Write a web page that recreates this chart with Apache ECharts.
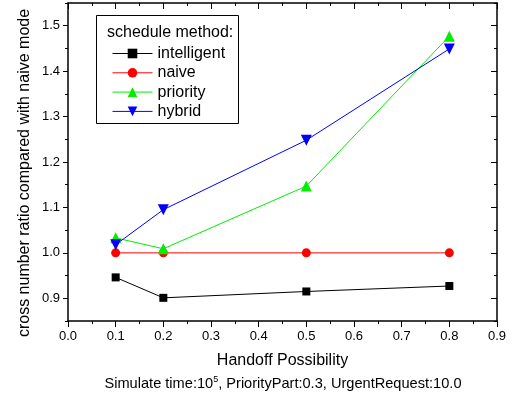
<!DOCTYPE html>
<html>
<head>
<meta charset="utf-8">
<script src="https://cdn.jsdelivr.net/npm/echarts@6/dist/echarts.min.js"></script>
<style>
  html, body { margin: 0; padding: 0; background: #fff; }
  #main { width: 517px; height: 401px; }
</style>
</head>
<body>
<div id="main"></div>
<script>
// data
var handoff = [0.1, 0.2, 0.5, 0.8];
var intelligent = [0.946, 0.901, 0.915, 0.927];
var naive = [1.0, 1.0, 1.0, 1.0];
var priority = [1.033, 1.009, 1.147, 1.477];
var hybrid = [1.018, 1.095, 1.248, 1.449];
var yLabels = [0.9, 1.0, 1.1, 1.2, 1.3, 1.4, 1.5];

var font = 'Liberation Sans, Arial, sans-serif';

function pairs(ys) {
    return handoff.map(function (x, i) { return [x, ys[i]]; });
}

function mkSeries(name, ys, color, symbol, size, rotate) {
    return {
        name: name,
        type: 'line',
        data: pairs(ys),
        symbol: symbol,
        symbolSize: size,
        symbolRotate: rotate || 0,
        showAllSymbol: true,
        itemStyle: { color: color },
        lineStyle: { color: color, width: 1 },
        emphasis: { disabled: true },
        z: 3
    };
}

var myChart = echarts.init(document.getElementById('main'));

var frame = { show: true, lineStyle: { color: '#000', width: 1.5 } };

option = {
    animation: false,
    backgroundColor: '#fff',
    grid: { left: 68, right: 20, top: 3, bottom: 80 },
    xAxis: [{
        type: 'value', position: 'bottom', min: 0, max: 0.9, interval: 0.1,
        axisLine: frame,
        axisTick: { show: true, length: 6, lineStyle: { color: '#000' } },
        minorTick: { show: true, splitNumber: 2, length: 3, lineStyle: { color: '#000' } },
        axisLabel: { fontFamily: font, fontSize: 13, color: '#000', margin: 9,
            formatter: function (v) { return v.toFixed(1); } },
        splitLine: { show: false }
    }, {
        type: 'value', position: 'top', min: 0, max: 0.9, interval: 0.1,
        axisLine: frame,
        axisTick: { show: true, inside: true, length: 6, lineStyle: { color: '#000' } },
        minorTick: { show: true, splitNumber: 2, length: 3, lineStyle: { color: '#000' } },
        axisLabel: { show: false },
        splitLine: { show: false }
    }],
    yAxis: [{
        type: 'value', position: 'left', min: 0.85, max: 1.55, interval: 0.05,
        axisLine: frame,
        axisTick: { show: true, length: 3, lineStyle: { color: '#000' } },
        axisLabel: { fontFamily: font, fontSize: 13, color: '#000', margin: 8,
            formatter: function (v) {
                var t = Math.round(v * 10);
                return Math.abs(t - v * 10) < 1e-6 ? (t / 10).toFixed(1) : '';
            } },
        splitLine: { show: false }
    }, {
        type: 'value', position: 'left', min: 0.85, max: 1.55, interval: 0.05,
        axisLine: { show: false },
        axisTick: { show: true, length: 5, customValues: yLabels, lineStyle: { color: '#000' } },
        axisLabel: { show: false },
        splitLine: { show: false }
    }, {
        type: 'value', position: 'right', min: 0.85, max: 1.55, interval: 0.05,
        axisLine: frame,
        axisTick: { show: true, inside: true, length: 3, lineStyle: { color: '#000' } },
        axisLabel: { show: false },
        splitLine: { show: false }
    }, {
        type: 'value', position: 'right', min: 0.85, max: 1.55, interval: 0.05,
        axisLine: { show: false },
        axisTick: { show: true, inside: true, length: 6, customValues: yLabels, lineStyle: { color: '#000' } },
        axisLabel: { show: false },
        splitLine: { show: false }
    }],
    legend: {
        orient: 'vertical', left: 107, top: 40.5,
        itemWidth: 40, itemHeight: 12, itemGap: 3.3,
        lineStyle: { width: 1 },
        textStyle: { fontFamily: font, fontSize: 16, lineHeight: 16, color: '#000' },
        data: ['intelligent', 'naive', 'priority', 'hybrid']
    },
    graphic: [{
        type: 'rect', left: 96, top: 15,
        shape: { width: 142, height: 108 },
        style: { fill: '#fff', stroke: '#000', lineWidth: 1 },
        z: 1
    }, {
        type: 'text', x: 107, y: 32.7,
        style: { text: 'schedule method:', font: '16px ' + font, fill: '#000', verticalAlign: 'middle' },
        z: 2
    }, {
        type: 'text', x: 25, y: 173, rotation: Math.PI / 2,
        style: { text: 'cross number ratio compared with naive mode', font: '16px ' + font,
            fill: '#000', align: 'center', verticalAlign: 'middle' }
    }, {
        type: 'text', x: 282.5, y: 361,
        style: { text: 'Handoff Possibility', font: '16px ' + font,
            fill: '#000', align: 'center', verticalAlign: 'middle' }
    }, {
        type: 'text', x: 283, y: 384,
        style: {
            text: '{n|Simulate time:10}{s|5}{n|, PriorityPart:0.3, UrgentRequest:10.0}',
            align: 'center', verticalAlign: 'middle',
            rich: {
                n: { fontFamily: font, fontSize: 14.6, fill: '#000' },
                s: { fontFamily: font, fontSize: 9, fill: '#000', padding: [0, 0, 8, 0] }
            }
        }
    }],
    series: [
        mkSeries('intelligent', intelligent, '#000000', 'rect', 8),
        mkSeries('naive', naive, '#ff0000', 'circle', 9),
        mkSeries('priority', priority, '#00ee00', 'triangle', 11),
        mkSeries('hybrid', hybrid, '#0000ff', 'triangle', 11, 180)
    ]
};

myChart.setOption(option);
</script>
</body>
</html>
